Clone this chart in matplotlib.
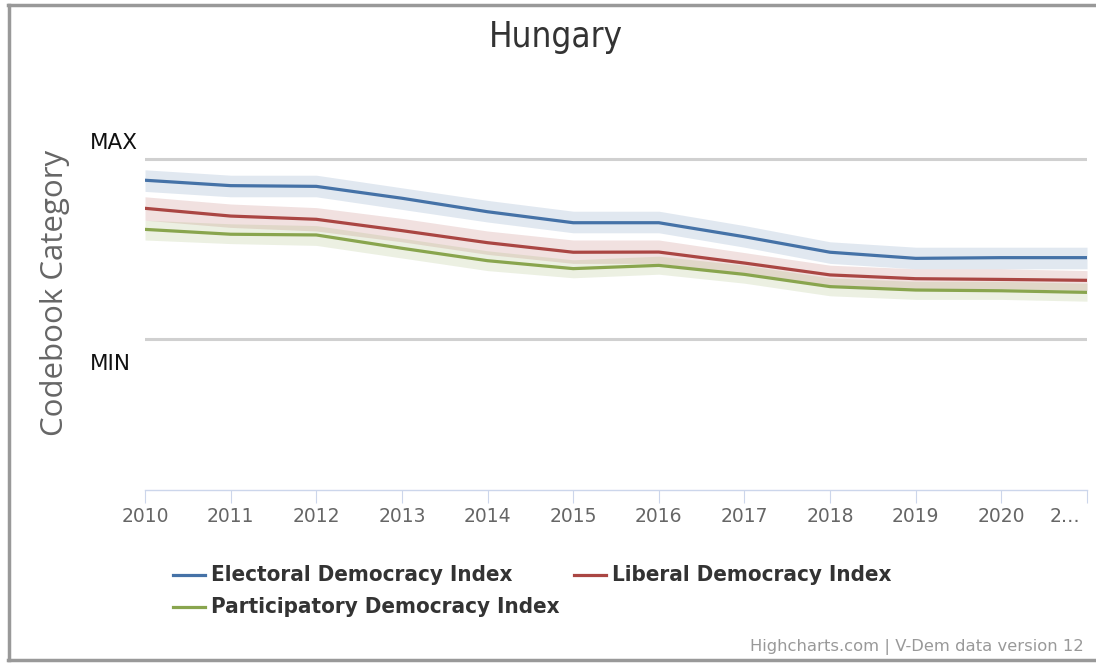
import matplotlib
matplotlib.use("Agg")
import matplotlib.pyplot as plt
from matplotlib.lines import Line2D
import matplotlib.transforms as mtransforms

years = [2010, 2011, 2012, 2013, 2014, 2015, 2016, 2017, 2018, 2019, 2020, 2021]
tick_labels = ["2010", "2011", "2012", "2013", "2014", "2015", "2016", "2017", "2018", "2019", "2020", "2…"]

electoral = [0.882, 0.852, 0.848, 0.782, 0.707, 0.646, 0.646, 0.568, 0.482, 0.448, 0.452, 0.452]
electoral_low = [0.82, 0.79, 0.79, 0.72, 0.65, 0.59, 0.59, 0.51, 0.42, 0.39, 0.39, 0.39]
electoral_high = [0.94, 0.91, 0.91, 0.84, 0.77, 0.71, 0.71, 0.63, 0.54, 0.51, 0.51, 0.51]

liberal = [0.726, 0.683, 0.665, 0.602, 0.535, 0.482, 0.483, 0.422, 0.356, 0.335, 0.331, 0.326]
liberal_low = [0.66, 0.62, 0.60, 0.54, 0.47, 0.42, 0.42, 0.36, 0.30, 0.28, 0.28, 0.27]
liberal_high = [0.79, 0.75, 0.73, 0.67, 0.60, 0.55, 0.55, 0.48, 0.41, 0.39, 0.39, 0.38]

participatory = [0.609, 0.582, 0.578, 0.504, 0.435, 0.391, 0.409, 0.359, 0.291, 0.272, 0.268, 0.259]
participatory_low = [0.55, 0.53, 0.52, 0.45, 0.38, 0.34, 0.36, 0.31, 0.24, 0.22, 0.22, 0.21]
participatory_high = [0.66, 0.64, 0.63, 0.56, 0.49, 0.44, 0.46, 0.41, 0.34, 0.32, 0.32, 0.31]

series_names = ["Electoral Democracy Index", "Liberal Democracy Index", "Participatory Democracy Index"]
colors = ["#4572A7", "#AA4643", "#89A54E"]

W, H = 1096, 664
fig = plt.figure(figsize=(W / 100, H / 100), dpi=100)
fig.patch.set_facecolor("white")

def fx(px):
    return px / W

def fy(py):
    return 1 - py / H

ax = fig.add_axes([fx(145), fy(490), fx(1087) - fx(145), (490 - 80) / H])
ax.set_facecolor("none")

series = [
    (electoral, electoral_low, electoral_high),
    (liberal, liberal_low, liberal_high),
    (participatory, participatory_low, participatory_high),
]
for (vals, lo, hi), c in zip(series, colors):
    ax.fill_between(years, lo, hi, color=c, alpha=0.16, linewidth=0, zorder=2)
for (vals, lo, hi), c in zip(series, colors):
    ax.plot(years, vals, color=c, linewidth=2.3, zorder=3, solid_joinstyle="round")

ax.axhline(1, color="#d0d0d0", linewidth=2.2, zorder=1)
ax.axhline(0, color="#d0d0d0", linewidth=2.2, zorder=1)

ax.set_xlim(2010, 2021)
ax.set_ylim((339 - 490) / 180, (339 - 80) / 180)

for s in ["top", "right", "left"]:
    ax.spines[s].set_visible(False)
ax.spines["bottom"].set_color("#ccd6eb")
ax.spines["bottom"].set_linewidth(1.0)
ax.set_yticks([])
ax.set_xticks(years)
ax.set_xticklabels(tick_labels)
ax.tick_params(axis="x", length=9, width=0.8, color="#ccd6eb", pad=3, labelsize=13.5, labelcolor="#666666")
for lab in ax.get_xticklabels():
    lab.set_fontfamily("DejaVu Sans")
last = ax.get_xticklabels()[-1]
last.set_horizontalalignment("right")
last.set_transform(last.get_transform() + mtransforms.ScaledTranslation(-7 / 100, 0, fig.dpi_scale_trans))

ax.annotate("MAX", xy=(0, 1), xycoords=("axes fraction", "data"), xytext=(-39.6, 11.5),
            textcoords="offset points", ha="left", va="center", fontsize=15.5, color="#111111")
ax.annotate("MIN", xy=(0, 0), xycoords=("axes fraction", "data"), xytext=(-39.6, -18),
            textcoords="offset points", ha="left", va="center", fontsize=15.5, color="#111111")

fig.text(fx(55), fy(293), "Codebook Category", rotation=90, ha="center", va="center",
         fontsize=22.5, color="#666666", family="Open Sans")

fig.text(fx(556), fy(37), "Hungary", ha="center", va="center", fontsize=25, color="#333333",
         family="DejaVu Sans", fontstretch="condensed")

# legend
leg_items = [(173, 575), (574, 575), (173, 607)]
for name, c, (lx, ly) in zip(series_names, colors, leg_items):
    fig.add_artist(Line2D([fx(lx), fx(lx + 32)], [fy(ly), fy(ly)], color=c, linewidth=2.3,
                          transform=fig.transFigure))
    fig.text(fx(lx + 38), fy(ly), name, ha="left", va="center", fontsize=16, color="#333333",
             fontweight="bold", family="DejaVu Sans", fontstretch="condensed")

fig.text(fx(1084), fy(647), "Highcharts.com | V-Dem data version 12", ha="right", va="center",
         fontsize=11.8, color="#999999", family="DejaVu Sans")

# frame border
bc = "#999999"
fig.add_artist(Line2D([fx(8), 1], [fy(5), fy(5)], color=bc, linewidth=2.5, transform=fig.transFigure))
fig.add_artist(Line2D([fx(9), fx(9)], [fy(5), fy(660)], color=bc, linewidth=2.5, transform=fig.transFigure))
fig.add_artist(Line2D([fx(8), 1], [fy(660), fy(660)], color=bc, linewidth=2.5, transform=fig.transFigure))

fig.savefig("out.png", dpi=100, facecolor="white")
